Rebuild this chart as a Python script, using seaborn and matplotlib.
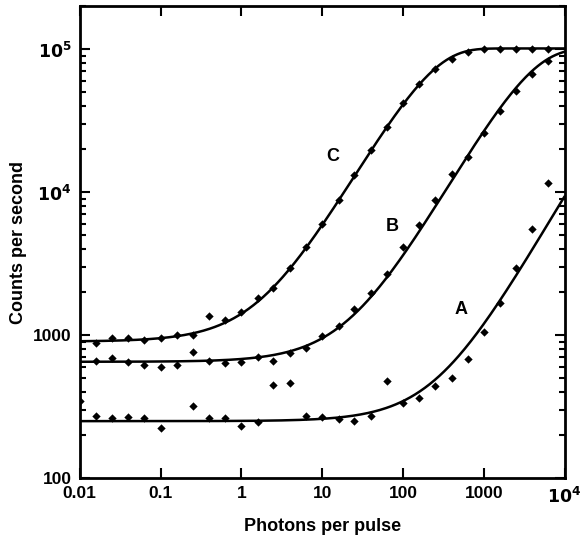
import numpy as np
import pandas as pd
import seaborn as sns
import matplotlib.pyplot as plt
from matplotlib.ticker import FixedLocator, FixedFormatter, LogLocator, NullFormatter

# measured points (photons per pulse, counts per second)
a_x = [0.01, 0.016, 0.025, 0.04, 0.063, 0.1, 0.25, 0.4, 0.63, 1, 1.6, 2.5, 4,
       6.3, 10, 16, 25, 40, 63, 100, 160, 250, 400, 630, 1000, 1600, 2500, 4000, 6300]
a_y = [345, 272, 262, 266, 262, 223, 318, 262, 262, 231, 247, 447, 464,
       271, 266, 257, 251, 271, 477, 333, 361, 440, 498, 676, 1054, 1680, 2930, 5470, 11600]

b_x = [0.016, 0.025, 0.04, 0.063, 0.1, 0.16, 0.25, 0.4, 0.63, 1, 1.6, 2.5, 4, 6.3,
       10, 16, 25, 40, 63, 100, 160, 250, 400, 630, 1000, 1600, 2500, 4000, 6300]
b_y = [661, 687, 644, 617, 594, 617, 757, 658, 634, 651, 700, 658, 752, 815,
       980, 1150, 1520, 1980, 2670, 4120, 5880, 8800, 13400, 17500, 25800, 36600, 50500, 66500, 81800]

c_x = [0.016, 0.025, 0.04, 0.063, 0.1, 0.16, 0.25, 0.4, 0.63, 1, 1.6, 2.5, 4, 6.3,
       10, 16, 25, 40, 63, 100, 160, 250, 400, 630, 1000, 1600, 2500, 4000, 6300]
c_y = [880, 950, 950, 920, 950, 1000, 1000, 1360, 1270, 1450, 1810, 2130, 2940, 4120,
       6000, 8800, 13100, 19700, 28500, 41800, 57000, 72000, 85500, 96000, 100000, 100000, 100000, 100000, 100000]

# fitted saturation curves: background + rmax * (1 - exp(-k * n))
rmax = 100000
fit_bg = {"A": 250, "B": 650, "C": 900}
fit_k = {"A": 9.5e-6, "B": 3.0e-4, "C": 5.1e-3}

x_ticks = [0.01, 0.1, 1, 10, 100, 1000, 10000]
x_labels = ["0.01", "0.1", "1", "10", "100", "1000", "$\\mathbf{10^4}$"]
y_ticks = [100, 1000, 10000, 100000]
y_labels = ["100", "1000", "$\\mathbf{10^4}$", "$\\mathbf{10^5}$"]

pts = pd.concat([
    pd.DataFrame({"x": a_x, "y": a_y, "s": "A"}),
    pd.DataFrame({"x": b_x, "y": b_y, "s": "B"}),
    pd.DataFrame({"x": c_x, "y": c_y, "s": "C"}),
])
n = np.logspace(-2, 4, 400)
fits = pd.concat([
    pd.DataFrame({"x": n, "y": fit_bg[s] + rmax * (1 - np.exp(-fit_k[s] * n)), "s": s})
    for s in ["A", "B", "C"]
])

sns.set_style("ticks", {"text.color": "black", "axes.labelcolor": "black",
                        "xtick.color": "black", "ytick.color": "black",
                        "axes.edgecolor": "black"})
plt.rcParams["font.family"] = ["Liberation Sans", "DejaVu Sans"]
plt.rcParams["font.weight"] = "bold"

fig = plt.figure(figsize=(5.82, 5.42), dpi=100)
ax = fig.add_axes([0.137, 0.118, 0.833, 0.871])
sns.lineplot(data=fits, x="x", y="y", units="s", estimator=None, color="black",
             linewidth=1.8, ax=ax)
sns.scatterplot(data=pts, x="x", y="y", marker="D", s=18, color="black",
                edgecolor="black", linewidth=0, ax=ax)
ax.set_xscale("log")
ax.set_yscale("log")
ax.set_xlim(0.01, 10000)
ax.set_ylim(100, 200000)

ax.xaxis.set_major_locator(FixedLocator(x_ticks))
ax.xaxis.set_major_formatter(FixedFormatter(x_labels))
ax.xaxis.set_minor_locator(FixedLocator([]))
ax.yaxis.set_major_locator(FixedLocator(y_ticks))
ax.yaxis.set_major_formatter(FixedFormatter(y_labels))
ax.yaxis.set_minor_locator(LogLocator(base=10, subs=np.arange(2, 10)))
ax.yaxis.set_minor_formatter(NullFormatter())
ax.tick_params(which="both", direction="in", right=True, top=True, width=1.5)
ax.tick_params(which="major", length=7, labelsize=12.5, pad=6)
ax.tick_params(which="minor", length=4)
for sp in ax.spines.values():
    sp.set_linewidth(2)

ax.text(13.5, 17600, "C", fontsize=13, fontweight="bold", ha="center", va="center")
ax.text(73, 5700, "B", fontsize=13, fontweight="bold", ha="center", va="center")
ax.text(525, 1500, "A", fontsize=13, fontweight="bold", ha="center", va="center")

ax.set_xlabel("Photons per pulse", fontsize=13, fontweight="bold", labelpad=8)
ax.set_ylabel("Counts per second", fontsize=13, fontweight="bold", labelpad=4)
fig.savefig("out.png", dpi=100)
